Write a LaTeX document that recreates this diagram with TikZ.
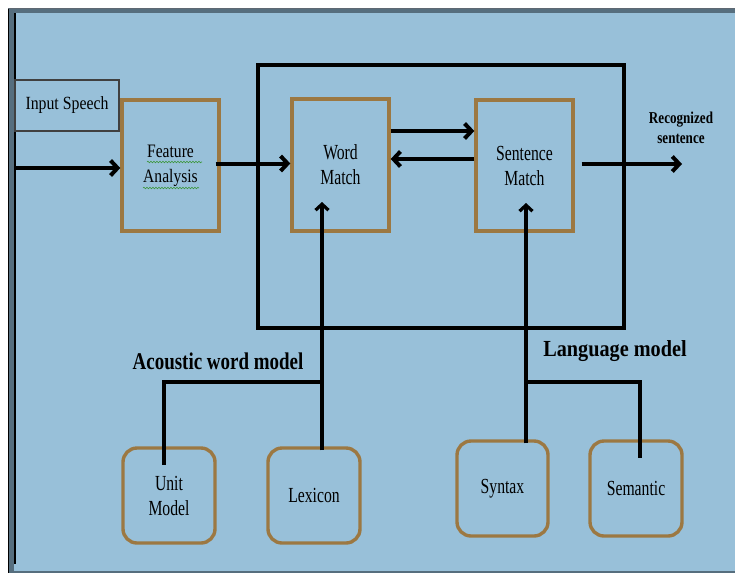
\documentclass[tikz,border=0pt]{standalone}
\usepackage{fontspec}
\setmainfont{Liberation Serif}
\newfontfamily\fA[FakeStretch=0.85]{Liberation Serif}
\newfontfamily\fB[FakeStretch=0.82]{Liberation Serif}
\newfontfamily\fC[FakeStretch=0.73]{Liberation Serif}
\newfontfamily\fD[FakeStretch=0.79]{Liberation Serif}
\newfontfamily\fE[FakeStretch=0.88]{Liberation Serif}
\usetikzlibrary{arrows.meta,decorations.pathmorphing}
\definecolor{bgblue}{RGB}{152,192,217}
\definecolor{brownb}{RGB}{156,120,66}
\definecolor{slate}{RGB}{86,110,126}
\definecolor{topgray}{RGB}{95,105,115}
\definecolor{squig}{RGB}{60,150,60}
\tikzset{
  x=1pt, y=-1pt,
  brownbox/.style={draw=brownb, line width=3.4pt, fill=bgblue, inner sep=0pt, align=center,
     font=\fC\fontsize{21.5}{25}\selectfont},
  roundbox/.style={brownbox, rounded corners=14pt},
  thickarrow/.style={line width=4pt, -{Straight Barb[length=7pt,width=15pt]}},
  thinarrow/.style={line width=3.2pt, -{Straight Barb[length=6pt,width=13pt]}},
  treeline/.style={line width=3.2pt},
  boldlabel/.style={inner sep=0pt, align=center},
}
\begin{document}
\begin{tikzpicture}
\useasboundingbox (0,0) rectangle (735,573);
% frame
\fill[white] (0,0) rectangle (735,573);
\fill[slate] (9,9) rectangle (735,573);
\fill[bgblue] (14,13) rectangle (735,571);
\draw[topgray, line width=1.6pt] (8,8.5) -- (735,8.5);
\draw[black, line width=1.2pt] (8.6,9) -- (8.6,573);
\draw[black, line width=1.6pt] (15,13) -- (15,564);

% big box
\node[draw=black, line width=3.2pt, minimum width=366pt, minimum height=263pt, inner sep=0pt] (big) at (441,196.5) {};

% input speech
\node[draw=black!75, line width=1.4pt, fill=bgblue, minimum width=104pt, minimum height=51pt, inner sep=0pt,
      font=\fA\fontsize{18.6}{22}\selectfont] (inp) at (67,105.5) {Input Speech};

% main boxes
\node[brownbox, minimum width=97pt, minimum height=131pt, font=\fB\fontsize{19}{25}\selectfont] (fa) at (170.5,165.5) {Feature\\Analysis};
\node[brownbox, minimum width=97pt, minimum height=132pt] (wm) at (340.5,165) {Word\\Match};
\node[brownbox, minimum width=97pt, minimum height=131pt] (sm) at (524.5,165.5) {Sentence\\Match};

% squiggles
\draw[squig, line width=0.6pt, decorate, decoration={snake, amplitude=0.8pt, segment length=3pt}] (147,162) -- (202,162);
\draw[squig, line width=0.6pt, decorate, decoration={snake, amplitude=0.8pt, segment length=3pt}] (143,188) -- (199,188);

% bottom boxes
\node[roundbox, minimum width=92pt, minimum height=95pt] (um) at (169,495.5) {Unit\\Model};
\node[roundbox, minimum width=92pt, minimum height=95pt] (lex) at (314,495.5) {Lexicon};
\node[roundbox, minimum width=91pt, minimum height=95pt] (syn) at (502.5,488.5) {Syntax};
\node[roundbox, minimum width=92pt, minimum height=95pt] (sem) at (636,488.5) {Semantic};

% labels
\node[boldlabel, font=\fD\bfseries\fontsize{24}{28}\selectfont] (aw) at (218,361) {Acoustic word model};
\node[boldlabel, font=\fE\bfseries\fontsize{23}{27}\selectfont] (lm) at (615,351.5) {Language model};
\node[boldlabel, font=\fD\bfseries\fontsize{16.6}{20}\selectfont] (rs) at (681,128) {Recognized\\sentence};

% coordinates
\coordinate (inL) at (15,168);
\coordinate (out) at (682,164);
\coordinate (ja) at (322,382);
\coordinate (jb) at (526,382);
\coordinate (wmIn) at (322,202);
\coordinate (smIn) at (526,203);

% connectors
\draw[thickarrow] (inL) -- (inL -| fa.west);
\draw[thickarrow] ([xshift=-5pt,yshift=2pt]fa.east) -- ([yshift=2pt]fa.east -| wm.west);
\draw[thickarrow] ([yshift=34pt]wm.east) -- ([yshift=34pt]wm.east -| sm.west);
\draw[thickarrow] ([yshift=6.5pt]sm.west) -- ([yshift=6.5pt]sm.west -| wm.east);
\draw[thickarrow] ([xshift=7pt,yshift=1.5pt]sm.east) -- (out);

\draw[thinarrow, shorten <=-4pt] (lex.north -| ja) -- (wmIn);
\draw[treeline, shorten >=-19pt] (ja) -| ([xshift=-5pt]um.north);
\draw[thinarrow, shorten <=-4pt] (syn.north -| jb) -- (smIn);
\draw[treeline, shorten >=-19pt] (jb) -| ([xshift=4pt]sem.north);
\end{tikzpicture}
\end{document}
